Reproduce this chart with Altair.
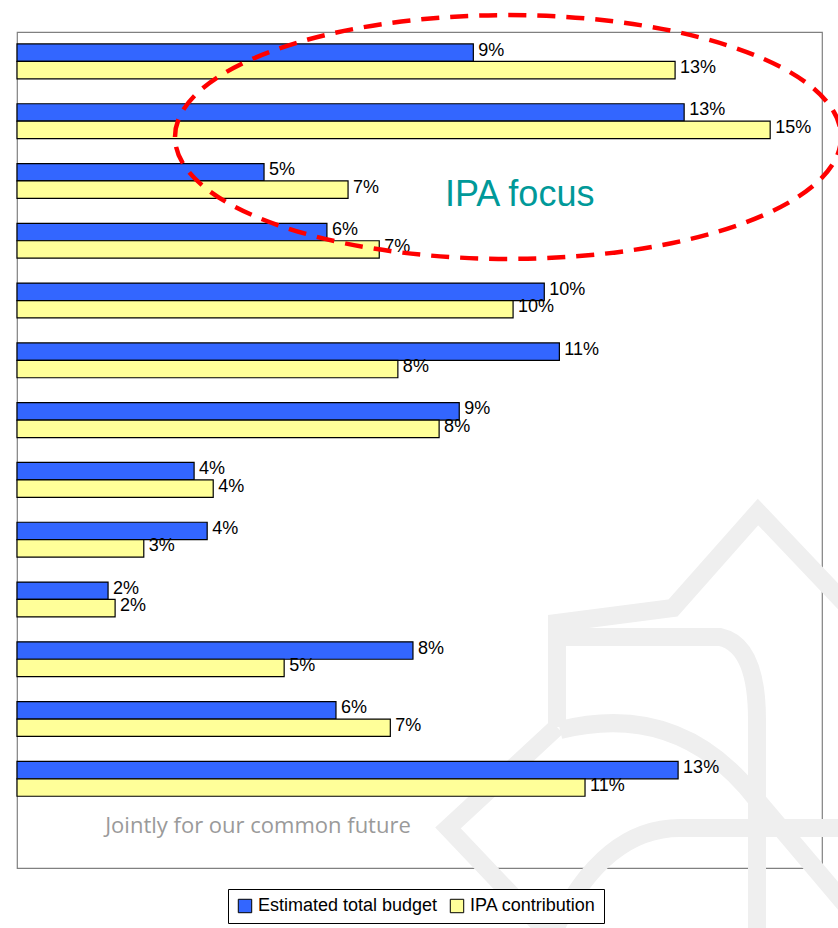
import altair as alt
import pandas as pd

# ---------------- data ----------------
categories = ["Priority 1", "Priority 2", "Priority 3", "Priority 4", "Priority 5",
              "Priority 6", "Priority 7", "Priority 8", "Priority 9", "Priority 10",
              "Priority 11", "Priority 12", "Priority 13"]
series_names = ["Estimated total budget", "IPA contribution"]
series_colors = ["#3366FF", "#FFFF99"]
budget = [9.07, 13.26, 4.91, 6.16, 10.48, 10.78, 8.79, 3.52, 3.78, 1.81, 7.87, 6.34, 13.14]
ipa = [13.08, 14.97, 6.58, 7.20, 9.86, 7.57, 8.39, 3.90, 2.52, 1.95, 5.31, 7.42, 11.29]

annotation_text = ["IPA focus"]
watermark_text = ["Jointly for our common future"]

rows = []
for c, b, p in zip(categories, budget, ipa):
    rows.append({"category": c, "series": series_names[0], "value": b})
    rows.append({"category": c, "series": series_names[1], "value": p})
df = pd.DataFrame(rows)

y_domain = categories + [" "]

x_enc = alt.X("value:Q", scale=alt.Scale(domain=[0, 16], nice=False, zero=True), axis=None)
y_enc = alt.Y("category:N",
              scale=alt.Scale(domain=y_domain, paddingInner=0.417, paddingOuter=0.2),
              axis=None)
yoff_enc = alt.YOffset("series:N",
                       scale=alt.Scale(domain=series_names, paddingInner=0, paddingOuter=0))

# ---------------- decorations ----------------
one = pd.DataFrame({"a": [0]})

logo_path = (
    "M -1.43 -0.33 L -1.43 -1.37 L -0.27 -1.52 L 0.58 -2.48 L 1.7 -1.3 "
    "M -1.35 -1.23 L 0.2 -1.23 Q 0.57 -1.15 0.57 -0.4 L 0.57 1.8 "
    "M -1.4 -0.3 Q -0.2 -0.6 0.57 0.4 L 1.5 1.5 "
    "M -1.43 -0.33 L -2.52 0.68 L -1.55 1.7 "
    "M -1.5 1.8 Q -1.0 0.68 -0.2 0.68 L 1.5 0.68"
)
logo = alt.Chart(one).mark_point(
    shape=logo_path, size=40000, filled=False, fill=None, color="#efefef",
    stroke="#efefef", strokeWidth=18, opacity=1, strokeJoin="miter"
).encode(x=alt.value(683), y=alt.value(728))

wm = alt.Chart(pd.DataFrame({"t": watermark_text})).mark_text(
    font="Open Sans", fontSize=22, color="#9a9a9a", align="center", baseline="alphabetic"
).encode(x=alt.value(241), y=alt.value(801), text="t:N")

# ---------------- main chart ----------------
bars = alt.Chart(df).mark_bar(stroke="black", strokeWidth=1.2).encode(
    x=x_enc,
    y=y_enc,
    yOffset=yoff_enc,
    color=alt.Color(
        "series:N",
        scale=alt.Scale(domain=series_names, range=series_colors),
        legend=alt.Legend(
            title=None, orient="none", legendX=211, legendY=857,
            direction="horizontal", symbolType="square", symbolSize=180,
            symbolStrokeColor="black", symbolStrokeWidth=1,
            labelFont="Liberation Sans", labelFontSize=18, labelColor="black",
            labelLimit=0, labelOffset=4, columnPadding=10, padding=8,
            strokeColor="black", fillColor="white",
        ),
    ),
)

labels = alt.Chart(df).transform_calculate(
    label="format(datum.value, '.0f') + '%'"
).mark_text(
    align="left", baseline="middle", dx=5, dy=-2,
    font="Liberation Sans", fontSize=18, color="black"
).encode(x=x_enc, y=y_enc, yOffset=yoff_enc, text="label:N")

ellipse_path = "M -1 0 A 1 0.366 0 1 1 1 0 A 1 0.366 0 1 1 -1 0 Z"
ellipse = alt.Chart(one).mark_point(
    shape=ellipse_path, size=666 * 666, filled=False, fill=None,
    color="#FF0000", stroke="#FF0000", strokeWidth=4.5, strokeDash=[18, 11], opacity=1
).encode(x=alt.value(491), y=alt.value(105))

focus = alt.Chart(pd.DataFrame({"t": annotation_text})).mark_text(
    font="Liberation Sans", fontSize=36, color="#009999", align="left", baseline="alphabetic"
).encode(x=alt.value(428), y=alt.value(174), text="t:N")

chart = alt.layer(logo, wm, bars, labels, ellipse, focus).properties(
    width=805, height=836,
    padding={"left": 17, "top": 32, "right": 16, "bottom": 60},
    autosize=alt.AutoSizeParams(type="none"),
    background="white",
).configure_view(stroke="#808080", strokeWidth=1.2)

chart.save("out.html", embed_options={"renderer": "svg", "actions": False})
